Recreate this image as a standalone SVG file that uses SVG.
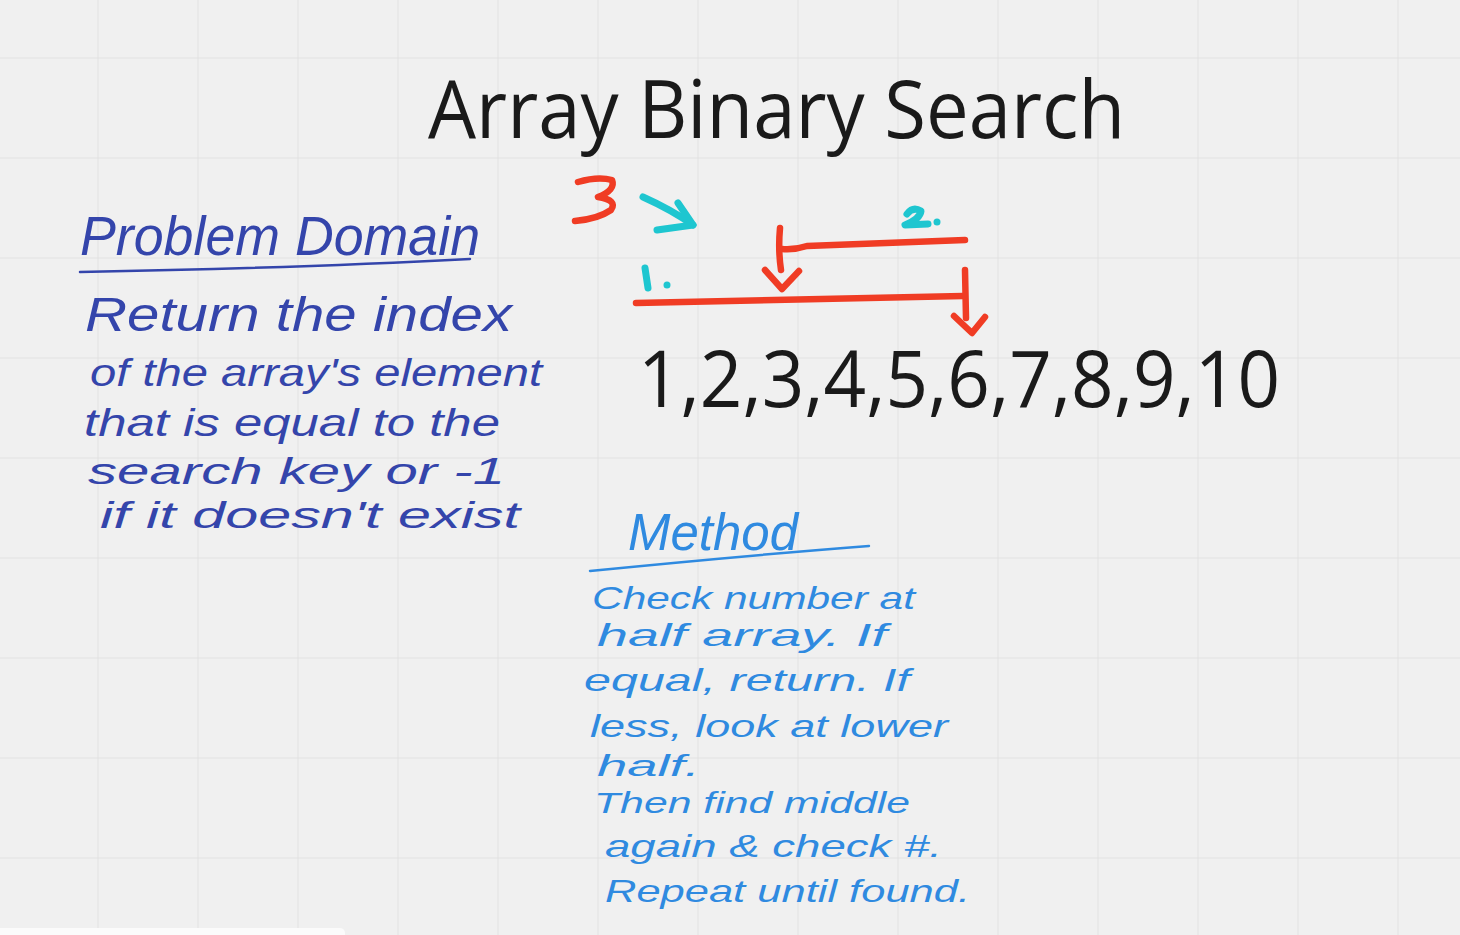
<svg xmlns="http://www.w3.org/2000/svg" width="1460" height="935" viewBox="0 0 1460 935">
<defs>
<pattern id="grid" x="-1.5" y="-41.5" width="100" height="100" patternUnits="userSpaceOnUse">
<path d="M100 0V100M0 100H100" fill="none" stroke="#dedede" stroke-width="1.5"/>
</pattern>
<style>
.title{font-family:"Open Sans","Noto Sans",sans-serif;fill:#1a1a1a}
.hw1{font-family:"Liberation Sans",sans-serif;font-style:italic;fill:#3445ab}
.hw2{font-family:"Liberation Sans",sans-serif;font-style:italic;fill:#2f8ae0}
.red{fill:none;stroke:#f03c24;stroke-width:6.5;stroke-linecap:round;stroke-linejoin:round}
.cyan{fill:none;stroke:#1ec6d0;stroke-width:7;stroke-linecap:round;stroke-linejoin:round}
</style>
</defs>
<rect width="1460" height="935" fill="#f0f0f0"/>
<rect width="1460" height="935" fill="url(#grid)"/>
<rect x="-10" y="928" width="355" height="20" rx="5" fill="#fbfbfb"/>

<g id="title">
<text class="title" x="428" y="138" font-size="80" textLength="697" lengthAdjust="spacingAndGlyphs">Array Binary Search</text>
</g>

<g id="array">
<text class="title" x="638" y="407" font-size="78" textLength="642" lengthAdjust="spacingAndGlyphs">1,2,3,4,5,6,7,8,9,10</text>
</g>

<g id="problem-domain">
<text class="hw1" x="80" y="255" font-size="56" textLength="400" lengthAdjust="spacingAndGlyphs">Problem Domain</text>
<path d="M80 272 Q300 268 470 259" fill="none" stroke="#3445ab" stroke-width="2.5" stroke-linecap="round"/>
<text class="hw1" x="85" y="331" font-size="48" textLength="427" lengthAdjust="spacingAndGlyphs">Return the  index</text>
<text class="hw1" x="90" y="386" font-size="38" textLength="452" lengthAdjust="spacingAndGlyphs">of the array's element</text>
<text class="hw1" x="84" y="436" font-size="38" textLength="416" lengthAdjust="spacingAndGlyphs">that is equal to the</text>
<text class="hw1" x="88" y="484" font-size="36" textLength="417" lengthAdjust="spacingAndGlyphs">search key or  -1</text>
<text class="hw1" x="100" y="528" font-size="36" textLength="420" lengthAdjust="spacingAndGlyphs">if  it doesn't exist</text>
</g>

<g id="method">
<text class="hw2" x="628" y="550" font-size="52" textLength="170" lengthAdjust="spacingAndGlyphs">Method</text>
<path d="M590 571 Q740 556 869 546" fill="none" stroke="#2f8ae0" stroke-width="2.5" stroke-linecap="round"/>
<text class="hw2" x="592" y="609" font-size="32" textLength="323" lengthAdjust="spacingAndGlyphs">Check number at</text>
<text class="hw2" x="597" y="646" font-size="32" textLength="290" lengthAdjust="spacingAndGlyphs">half array. If</text>
<text class="hw2" x="584" y="691" font-size="32" textLength="326" lengthAdjust="spacingAndGlyphs">equal, return. If</text>
<text class="hw2" x="590" y="737" font-size="32" textLength="358" lengthAdjust="spacingAndGlyphs">less, look at lower</text>
<text class="hw2" x="597" y="776" font-size="30" textLength="103" lengthAdjust="spacingAndGlyphs">half.</text>
<text class="hw2" x="594" y="813" font-size="30" textLength="316" lengthAdjust="spacingAndGlyphs">Then find middle</text>
<text class="hw2" x="605" y="857" font-size="32" textLength="337" lengthAdjust="spacingAndGlyphs">again &amp; check #.</text>
<text class="hw2" x="605" y="902" font-size="32" textLength="365" lengthAdjust="spacingAndGlyphs">Repeat until found.</text>
</g>

<g id="annotations">
<path class="red" d="M578 182 Q598 176 612 180 Q616 190 598 197 Q618 200 611 210 Q598 219 575 221" stroke-width="8"/>
<path class="cyan" d="M643 197 Q672 210 693 225"/>
<path class="cyan" d="M678 203 L693 225 L657 230"/>
<path class="cyan" d="M907 214 Q913 206 921 211 Q920 219 905 225 L928 224" stroke-width="6"/>
<circle cx="937" cy="222" r="3.5" fill="#1ec6d0"/>
<path class="cyan" d="M645 268 L648 288" stroke-width="6"/>
<circle cx="667" cy="285" r="3.5" fill="#1ec6d0"/>
</g>

<g id="connectors">
<path class="red" d="M636 303 Q800 300 963 296"/>
<path class="red" d="M965 270 L966 318"/>
<path class="red" d="M954 316 L972 333 L985 317"/>
<path class="red" d="M965 240 Q880 243 807 246 Q795 250 782 249"/>
<path class="red" d="M780 228 Q778 250 781 270"/>
<path class="red" d="M765 270 L782 289 L799 271"/>
</g>
</svg>
